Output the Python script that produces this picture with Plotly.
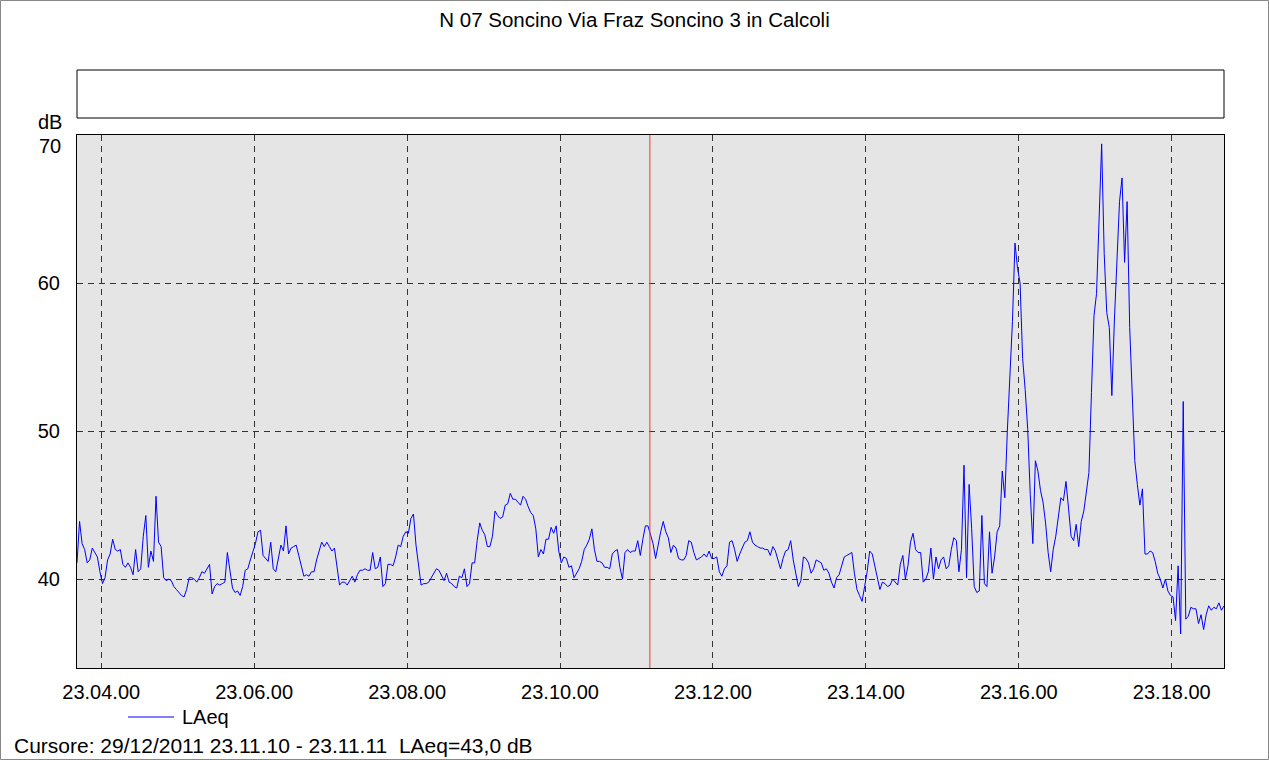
import pandas as pd
import plotly.graph_objects as go

# --- data ---
title = "N 07 Soncino Via Fraz Soncino 3 in Calcoli"
series_name = "LAeq"
start_time = "2011-12-29 23:03:41"
end_time = "2011-12-29 23:18:41"
step_seconds = 2
first_tick = "2011-12-29 23:04:00"
cursor_time = "2011-12-29 23:11:10.5"
cursor_text = "Cursore: 29/12/2011 23.11.10 - 23.11.11  LAeq=43,0 dB"
y_tickvals = [40, 50, 60, 70]
y_ticktext = ["40", "50", "60", ""]
y_top_label = "70"
y_unit = "dB"

# LAeq [dB], one value every 2 s from 23.03.41
laeq = [
    41.1, 43.9, 42.4, 42.0, 41.1, 41.3, 42.1, 41.8, 41.5, 40.5,
    39.7, 40.1, 41.3, 41.7, 42.7, 42.0, 41.9, 42.0, 41.0, 40.8,
    41.1, 40.8, 40.3, 42.0, 40.5, 40.7, 42.9, 44.3, 40.8, 41.9,
    41.2, 45.6, 42.5, 42.2, 40.1, 39.9, 40.0, 39.9, 39.5, 39.3,
    39.1, 38.9, 38.8, 39.3, 40.1, 40.1, 40.0, 39.8, 40.1, 40.5,
    40.4, 40.7, 41.0, 39.0, 39.5, 39.7, 39.6, 39.7, 39.8, 41.8,
    40.4, 39.4, 39.1, 39.2, 38.9, 39.5, 40.6, 40.7, 41.3, 41.8,
    42.4, 43.2, 43.3, 41.6, 41.4, 41.2, 42.5, 40.7, 40.5, 41.3,
    42.3, 41.9, 43.6, 41.7, 42.1, 42.2, 42.3, 41.6, 40.8, 40.2,
    40.3, 40.2, 40.5, 40.5, 41.3, 41.9, 42.5, 42.2, 42.5, 42.2,
    41.9, 42.1, 40.8, 39.6, 39.8, 39.8, 39.6, 39.9, 40.2, 39.8,
    40.3, 40.6, 40.6, 40.7, 40.6, 40.6, 41.8, 40.7, 40.8, 41.5,
    39.5, 39.7, 41.0, 41.0, 40.9, 41.5, 42.3, 42.2, 42.9, 43.2,
    43.1, 44.1, 44.4, 42.3, 40.8, 39.6, 39.7, 39.7, 39.8, 40.1,
    40.4, 40.7, 40.6, 40.2, 39.9, 40.4, 39.8, 39.7, 39.5, 39.4,
    40.2, 40.1, 40.7, 39.5, 39.7, 41.1, 41.1, 42.6, 43.8, 43.3,
    43.0, 42.2, 42.2, 42.9, 44.6, 44.3, 44.1, 44.2, 45.0, 45.1,
    45.8, 45.4, 45.4, 45.2, 45.0, 45.6, 45.4, 44.9, 44.5, 44.3,
    43.4, 41.5, 42.0, 41.7, 42.7, 42.7, 43.5, 43.1, 43.6, 41.9,
    41.1, 41.5, 41.4, 40.8, 40.9, 40.1, 40.4, 40.7, 41.2, 42.0,
    42.3, 42.7, 43.4, 42.0, 41.2, 41.2, 41.1, 40.8, 40.8, 40.7,
    41.7, 41.9, 42.0, 40.8, 40.0, 41.8, 42.0, 41.8, 41.9, 41.9,
    42.6, 41.6, 42.7, 43.6, 43.6, 43.0, 42.4, 41.4, 42.4, 43.2,
    43.9, 43.2, 42.8, 41.8, 42.3, 42.1, 41.4, 41.3, 41.3, 41.6,
    42.6, 42.5, 41.8, 41.3, 41.4, 41.5, 41.7, 41.5, 41.9, 41.4,
    41.4, 41.5, 40.5, 40.2, 40.7, 40.9, 42.5, 42.6, 42.0, 41.2,
    41.7, 42.1, 42.5, 42.6, 43.2, 42.5, 42.3, 42.2, 42.1, 42.1,
    42.0, 42.0, 41.6, 42.2, 41.9, 41.3, 40.7, 41.4, 41.9, 42.0,
    42.6, 41.3, 40.5, 39.5, 39.9, 41.5, 41.4, 41.1, 40.4, 40.7,
    41.3, 41.2, 41.1, 40.6, 40.7, 40.4, 39.8, 39.4, 40.1, 40.3,
    40.9, 41.5, 41.6, 41.7, 41.8, 40.4, 39.3, 38.9, 38.5, 39.5,
    40.5, 41.9, 41.7, 40.9, 40.0, 39.3, 39.8, 39.7, 39.5, 39.6,
    40.0, 39.8, 39.6, 41.0, 41.6, 40.0, 40.9, 42.5, 43.1, 42.0,
    41.8, 41.8, 39.8, 40.0, 40.5, 42.1, 40.0, 41.5, 40.7, 41.3,
    41.5, 40.7, 40.9, 42.0, 42.8, 42.6, 40.5, 42.0, 47.7, 40.1,
    46.4, 43.4, 39.5, 39.1, 39.2, 44.3, 39.7, 39.5, 43.2, 40.4,
    41.5, 43.2, 43.6, 47.3, 45.5, 50.0, 53.8, 57.4, 62.7, 61.0,
    60.0, 54.9, 52.8, 50.1, 45.7, 42.4, 48.0, 47.3, 46.0, 45.2,
    43.8, 41.8, 40.5, 42.0, 42.9, 44.3, 45.5, 45.3, 46.6, 44.8,
    42.9, 42.6, 43.7, 42.2, 43.9, 44.6, 46.0, 47.2, 52.6, 57.8,
    59.3, 65.2, 69.4, 62.0, 58.0, 57.0, 52.4, 57.5, 61.5, 65.5,
    67.1, 61.4, 65.5, 57.0, 52.5, 48.0, 46.4, 45.0, 46.1, 41.7,
    41.7, 41.9, 41.8, 41.2, 40.4, 40.0, 39.4, 40.0, 39.2, 38.9,
    38.8, 37.2, 40.9, 36.3, 52.0, 37.3, 37.5, 38.1, 38.0, 38.0,
    37.0, 37.6, 36.6, 37.6, 38.2, 37.9, 38.1, 38.0, 38.4, 37.9,
    38.2,
]

times = pd.date_range(start_time, periods=len(laeq), freq=f"{step_seconds}s")

# page geometry
W, H = 1269, 760
L, R, T, B = 77, 45, 135, 92
pw, ph = W - L - R, H - T - B
font = "Liberation Sans, Arial, sans-serif"


def px_x(x):
    return (x - L) / pw


def px_y(y):
    return (H - B - y) / ph


fig = go.Figure()
fig.add_trace(go.Scatter(x=times, y=laeq, mode="lines", name=series_name,
                         line=dict(color="#0000ff", width=1), showlegend=False))

grid = dict(showgrid=True, gridcolor="#333333", gridwidth=1, griddash="6px,5px",
            showline=True, linecolor="black", linewidth=1, mirror=True,
            zeroline=False, ticks="")

fig.update_layout(
    width=W, height=H,
    margin=dict(l=L, r=R, t=T, b=B, autoexpand=False),
    paper_bgcolor="white", plot_bgcolor="#e5e5e5",
    font=dict(family=font, size=20, color="black"),
    title=dict(text=title, x=0.5, xref="container", xanchor="center",
               y=1 - 20 / H, yref="container", yanchor="middle",
               font=dict(size=20.5)),
    xaxis=dict(type="date", range=[start_time, end_time], tick0=first_tick,
               dtick=120000, tickformat="%H.%M.%S", ticklabelstandoff=6, **grid),
    yaxis=dict(range=[34, 70], tickvals=y_tickvals, ticktext=y_ticktext,
               ticklabelstandoff=12, **grid),
)

# cursor
fig.add_shape(type="line", xref="x", yref="paper", x0=cursor_time, x1=cursor_time,
              y0=0, y1=1, line=dict(color="#ff3030", width=1))
# empty box above the plot
fig.add_shape(type="rect", xref="paper", yref="paper", x0=0, x1=1,
              y0=px_y(118), y1=px_y(70), line=dict(color="black", width=1),
              fillcolor="white")
# outer frame
fig.add_shape(type="rect", xref="paper", yref="paper", x0=px_x(0.5), x1=px_x(W - 0.5),
              y0=px_y(H - 0.5), y1=px_y(0.5), line=dict(color="#888888", width=1))

# legend drawn by hand (longer line sample than plotly's own)
fig.add_shape(type="line", xref="paper", yref="paper", x0=px_x(128), x1=px_x(174),
              y0=px_y(717), y1=px_y(717), line=dict(color="#0000ff", width=1))
fig.add_annotation(text=series_name, xref="paper", yref="paper", x=px_x(180), y=px_y(717),
                   xanchor="left", yanchor="middle", showarrow=False)

fig.add_annotation(text=y_unit, xref="paper", yref="paper", x=px_x(50), y=px_y(122),
                   xanchor="center", yanchor="middle", showarrow=False)
fig.add_annotation(text=y_top_label, xref="paper", yref="paper", x=px_x(63), y=px_y(146),
                   xanchor="right", yanchor="middle", showarrow=False)
fig.add_annotation(text=cursor_text, xref="paper", yref="paper", x=px_x(12), y=px_y(745),
                   xanchor="left", yanchor="middle", showarrow=False,
                   font=dict(size=21))

# drop the default body margin so the figure sits at the page origin
fig.write_html("out.html", config={"displayModeBar": False},
               post_script="document.body.style.margin='0';")
